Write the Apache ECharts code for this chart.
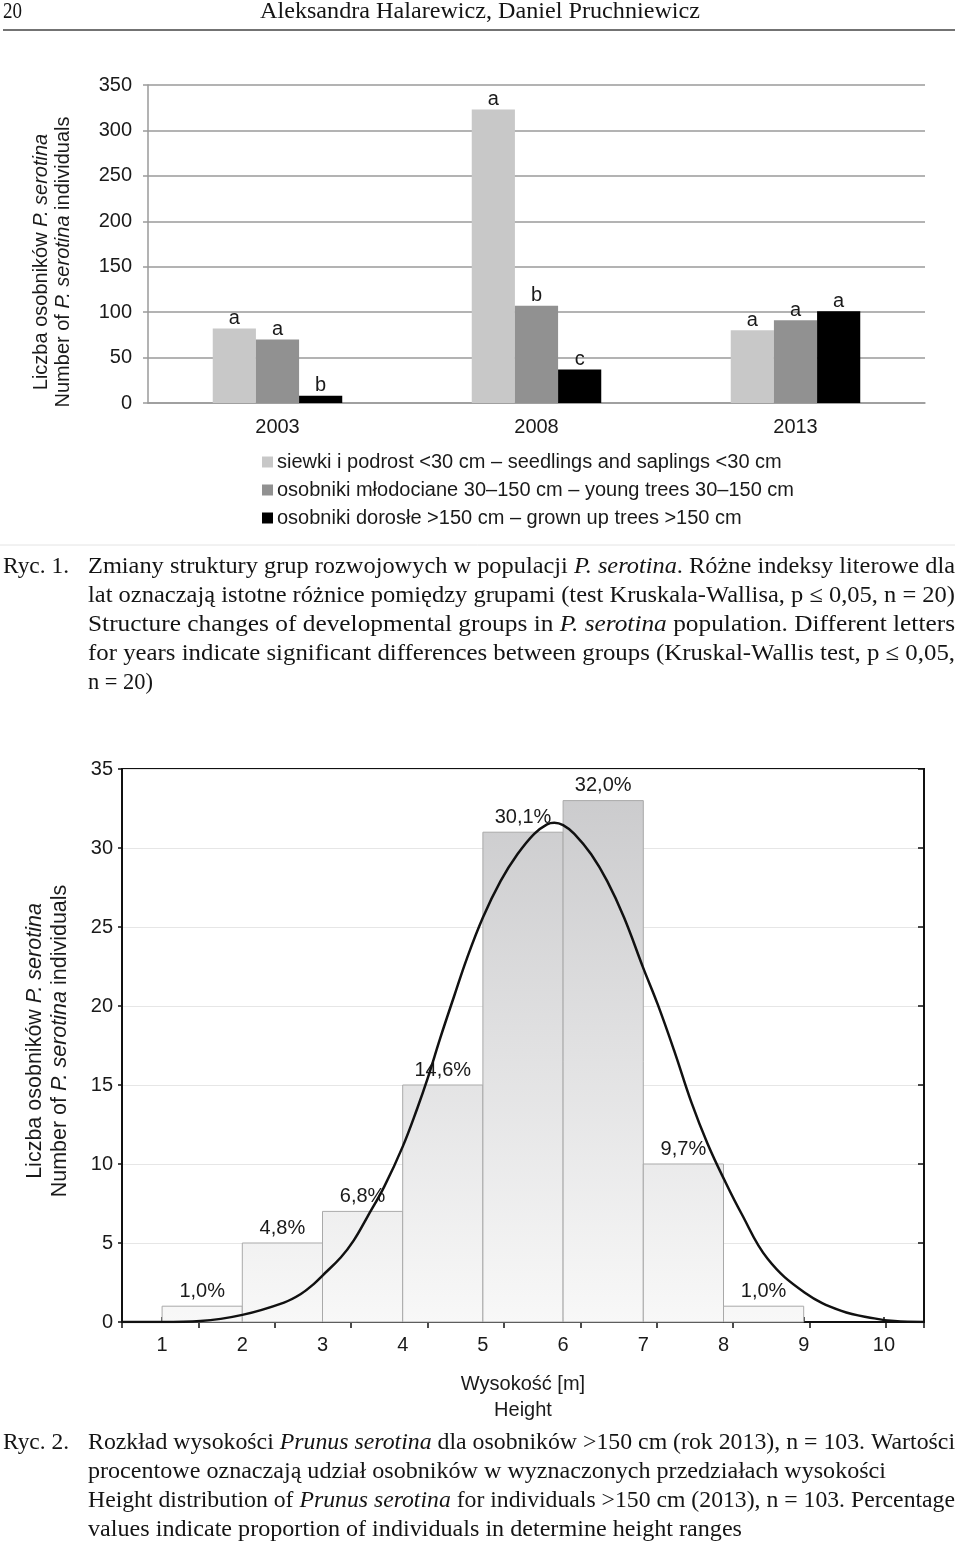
<!DOCTYPE html>
<html>
<head>
<meta charset="utf-8">
<title>Prunus serotina</title>
<script src="https://cdn.jsdelivr.net/npm/echarts@6/dist/echarts.min.js"></script>
<style>
html, body { margin: 0; padding: 0; background: #fff; }
#page { width: 960px; height: 1548px; }
</style>
</head>
<body>
<div id="page"></div>
<script>
// Ryc. 1 - grupy rozwojowe
var years = ['2003', '2008', '2013'];
var groupNames = [
    'siewki i podrost <30 cm – seedlings and saplings <30 cm',
    'osobniki młodociane 30–150 cm – young trees 30–150 cm',
    'osobniki dorosłe >150 cm – grown up trees >150 cm'
];
var seedlings = [82, 323, 80];
var youngTrees = [70, 107, 91];
var grownTrees = [8, 37, 101];
var seedlingLetters = ['a', 'a', 'a'];
var youngLetters = ['a', 'b', 'a'];
var grownLetters = ['b', 'c', 'a'];

// Ryc. 2 - rozklad wysokosci
var binStart = [1, 2, 3, 4, 5, 6, 7, 8];
var binEnd = [2, 3, 4, 5, 6, 7, 8, 9];
var binCount = [1, 5, 7, 15, 31, 33, 10, 1];
var binPercent = ['1,0%', '4,8%', '6,8%', '14,6%', '30,1%', '32,0%', '9,7%', '1,0%'];
var heightTicks = [1, 2, 3, 4, 5, 6, 7, 8, 9, 10];
// krzywa
var curveX = [0.5, 1.0, 1.48, 2.0, 2.52, 2.73, 2.89, 3.0, 3.23, 3.39, 3.56, 3.77, 4.0, 4.18, 4.31, 4.47,
    4.64, 4.8, 5.0, 5.22, 5.43, 5.64, 5.8, 5.89, 6.0, 6.14, 6.35, 6.55, 6.76, 7.0, 7.18, 7.39, 7.6,
    7.8, 8.01, 8.22, 8.55, 9.01, 9.47, 9.88, 10.13, 10.5];
var curveY = [0, 0, 0.06, 0.45, 1.23, 1.77, 2.4, 2.94, 4.1, 5.17, 6.66, 8.57, 11.1, 13.5, 15.4, 18.0,
    20.6, 23.0, 25.6, 27.9, 29.6, 30.9, 31.5, 31.6, 31.45, 30.9, 29.6, 27.9, 25.6, 22.4, 20.1, 17.1, 13.9,
    11.3, 9.0, 6.9, 4.0, 1.87, 0.7, 0.23, 0.06, 0];

// teksty strony (segment: [tekst, kursywa])
var caption1 = [
    [['Zmiany struktury grup rozwojowych w populacji ', 0], ['P. serotina', 1], ['. Różne indeksy literowe dla', 0]],
    [['lat oznaczają istotne różnice pomiędzy grupami (test Kruskala-Wallisa, p ≤ 0,05, n = 20)', 0]],
    [['Structure changes of developmental groups in ', 0], ['P. serotina', 1], [' population. Different letters', 0]],
    [['for years indicate significant differences between groups (Kruskal-Wallis test, p ≤ 0,05,', 0]],
    [['n = 20)', 0]]
];
var caption1End = [955, 955, 955, 955, 153];
var caption2 = [
    [['Rozkład wysokości ', 0], ['Prunus serotina', 1], [' dla osobników >150 cm (rok 2013), n = 103. Wartości', 0]],
    [['procentowe oznaczają udział osobników w wyznaczonych przedziałach wysokości', 0]],
    [['Height distribution of ', 0], ['Prunus serotina', 1], [' for individuals >150 cm (2013), n = 103. Percentage', 0]],
    [['values indicate proportion of individuals in determine height ranges', 0]]
];
var caption2End = [955, 886, 955, 742];

var SANS = 'Liberation Sans';
var SERIF = 'Liberation Serif';
var measureCtx = document.createElement('canvas').getContext('2d');

function measure(segs, size) {
    var w = 0;
    for (var i = 0; i < segs.length; i++) {
        measureCtx.font = (segs[i][1] ? 'italic ' : '') + size + 'px "' + SERIF + '"';
        w += measureCtx.measureText(segs[i][0]).width;
    }
    return w;
}

/**
 * linia tekstu szeryfowego sciśnięta do zadanej szerokosci
 */
function serifLine(segs, x, y, endX, size) {
    var str = '';
    for (var i = 0; i < segs.length; i++) {
        str += '{' + (segs[i][1] ? 'i' : 'n') + '|' + segs[i][0] + '}';
    }
    return {
        type: 'text',
        x: x,
        y: y,
        scaleX: (endX - x) / measure(segs, size),
        style: {
            text: str,
            fill: '#141414',
            verticalAlign: 'middle',
            rich: {
                n: { fontFamily: SERIF, fontSize: size },
                i: { fontFamily: SERIF, fontSize: size, fontStyle: 'italic' }
            }
        }
    };
}

function axisName(x, y, lines, size, lh) {
    return {
        type: 'text',
        x: x,
        y: y,
        rotation: Math.PI / 2,
        style: {
            text: lines,
            align: 'center',
            verticalAlign: 'middle',
            fill: '#1a1a1a',
            rich: {
                n: { fontFamily: SANS, fontSize: size, lineHeight: lh },
                i: { fontFamily: SANS, fontSize: size, lineHeight: lh, fontStyle: 'italic' }
            }
        }
    };
}

var graphics = [];
graphics.push(serifLine([['20', 0]], 3, 12, 22, 23));
graphics.push(serifLine([['Aleksandra Halarewicz, Daniel Pruchniewicz', 0]], 260, 12, 700, 23));
graphics.push({ type: 'line', shape: { x1: 3, y1: 30, x2: 955, y2: 30 }, style: { stroke: '#444', lineWidth: 1.5 } });
graphics.push({ type: 'line', shape: { x1: 0, y1: 545, x2: 955, y2: 545 }, style: { stroke: '#e4e4e4', lineWidth: 1 } });

graphics.push(serifLine([['Ryc. 1.', 0]], 3, 567, 69, 23));
for (var i = 0; i < caption1.length; i++) {
    graphics.push(serifLine(caption1[i], 88, 567 + i * 29, caption1End[i], 23));
}
graphics.push(serifLine([['Ryc. 2.', 0]], 3, 1443, 69, 23));
for (var j = 0; j < caption2.length; j++) {
    graphics.push(serifLine(caption2[j], 88, 1443 + j * 29, caption2End[j], 23));
}

graphics.push(axisName(52, 262,
    '{n|Liczba osobników }{i|P. serotina}\n{n|Number of }{i|P. serotina}{n| individuals}', 20, 22));
graphics.push(axisName(48, 1041,
    '{n|Liczba osobników }{i|P. serotina}\n{n|Number of }{i|P. serotina}{n| individuals}', 21.5, 25));
graphics.push({
    type: 'text', x: 523, y: 1384,
    style: { text: 'Wysokość [m]', font: '20px "' + SANS + '"', fill: '#1a1a1a', align: 'center', verticalAlign: 'middle' }
});
graphics.push({
    type: 'text', x: 523, y: 1410,
    style: { text: 'Height', font: '20px "' + SANS + '"', fill: '#1a1a1a', align: 'center', verticalAlign: 'middle' }
});

function letterLabel(letters) {
    return {
        show: true,
        position: 'top',
        distance: 0,
        fontFamily: SANS,
        fontSize: 20,
        color: '#1a1a1a',
        formatter: function (p) { return letters[p.dataIndex]; }
    };
}

var bins = [];
for (var k = 0; k < binStart.length; k++) {
    bins.push([binStart[k], binEnd[k], binCount[k], binPercent[k]]);
}
var curve = [];
for (var m = 0; m < curveX.length; m++) {
    curve.push([curveX[m], curveY[m]]);
}

var chart = echarts.init(document.getElementById('page'), null, { renderer: 'canvas' });

var option = {
    animation: false,
    backgroundColor: '#fff',
    textStyle: { fontFamily: SANS },
    graphic: graphics,
    legend: {
        orient: 'vertical',
        left: 257,
        top: 447,
        itemWidth: 11,
        itemHeight: 11,
        itemGap: 8,
        icon: 'rect',
        textStyle: { fontFamily: SANS, fontSize: 20, color: '#1a1a1a', lineHeight: 20, padding: [0, 0, 0, -1] },
        data: groupNames
    },
    grid: [
        { left: 148, top: 85, width: 777, height: 318 },
        { left: 122, top: 769, width: 802, height: 553, show: true, borderColor: '#111', borderWidth: 2, backgroundColor: 'transparent' }
    ],
    xAxis: [
        {
            type: 'category', gridIndex: 0, data: years,
            axisLine: { lineStyle: { color: '#9a9a9a', width: 1.5 } },
            axisTick: { show: false },
            axisLabel: { fontSize: 20, color: '#1a1a1a', margin: 14 }
        },
        {
            type: 'value', gridIndex: 1, position: 'bottom', min: 0.5, max: 10.5,
            splitLine: { show: false },
            axisLine: { lineStyle: { color: '#111', width: 2 } },
            axisTick: { inside: true, length: 5, customValues: heightTicks, lineStyle: { color: '#111', width: 1.5 } },
            axisLabel: { fontSize: 20, color: '#1a1a1a', margin: 13, customValues: heightTicks }
        },
        {
            type: 'value', gridIndex: 1, position: 'top', min: 0, max: 10.5, interval: 1,
            splitLine: { show: false },
            axisLine: { lineStyle: { color: '#111', width: 2 } },
            axisTick: { inside: true, length: 6, lineStyle: { color: '#111', width: 1.5 } },
            axisLabel: { show: false }
        }
    ],
    yAxis: [
        {
            type: 'value', gridIndex: 0, min: 0, max: 350, interval: 50,
            axisLine: { show: true, lineStyle: { color: '#9a9a9a', width: 1.5 } },
            axisTick: { show: true, length: 5, lineStyle: { color: '#9a9a9a', width: 1.5 } },
            splitLine: { lineStyle: { color: '#9a9a9a', width: 1.5 } },
            axisLabel: { fontSize: 20, color: '#1a1a1a', margin: 16 }
        },
        {
            type: 'value', gridIndex: 1, position: 'left', min: 0, max: 35, interval: 5,
            axisLine: { show: true, lineStyle: { color: '#111', width: 2 } },
            axisTick: { show: true, length: 4, lineStyle: { color: '#111', width: 1.5 } },
            splitLine: { lineStyle: { color: '#e6e6e6', width: 1 } },
            axisLabel: { fontSize: 20, color: '#1a1a1a', margin: 9 }
        },
        {
            type: 'value', gridIndex: 1, position: 'right', min: 0, max: 35, interval: 5,
            axisLine: { show: true, lineStyle: { color: '#111', width: 2 } },
            axisTick: { show: true, inside: true, length: 6, lineStyle: { color: '#111', width: 1.5 } },
            splitLine: { show: false },
            axisLabel: { show: false }
        }
    ],
    series: [
        {
            name: groupNames[0], type: 'bar', xAxisIndex: 0, yAxisIndex: 0,
            data: seedlings, barGap: '0%', barCategoryGap: '50%',
            itemStyle: { color: '#c8c8c8' }, label: letterLabel(seedlingLetters)
        },
        {
            name: groupNames[1], type: 'bar', xAxisIndex: 0, yAxisIndex: 0,
            data: youngTrees, barGap: '0%', barCategoryGap: '50%',
            itemStyle: { color: '#919191' }, label: letterLabel(youngLetters)
        },
        {
            name: groupNames[2], type: 'bar', xAxisIndex: 0, yAxisIndex: 0,
            data: grownTrees, barGap: '0%', barCategoryGap: '50%',
            itemStyle: { color: '#000' }, label: letterLabel(grownLetters)
        },
        {
            type: 'custom', xAxisIndex: 1, yAxisIndex: 1, data: bins, z: 2,
            renderItem: function (params, api) {
                var topLeft = api.coord([api.value(0), api.value(2)]);
                var bottomRight = api.coord([api.value(1), 0]);
                var gTop = api.coord([0.5, 35])[1];
                var gBottom = api.coord([0.5, 0])[1];
                return {
                    type: 'group',
                    children: [
                        {
                            type: 'rect',
                            shape: {
                                x: topLeft[0], y: topLeft[1],
                                width: bottomRight[0] - topLeft[0],
                                height: bottomRight[1] - topLeft[1]
                            },
                            style: {
                                fill: new echarts.graphic.LinearGradient(0, gTop, 0, gBottom, [
                                    { offset: 0, color: '#c9c9cb' },
                                    { offset: 1, color: '#f8f8f8' }
                                ], true),
                                stroke: '#a9a9a9',
                                lineWidth: 1
                            }
                        },
                        {
                            type: 'text',
                            x: (topLeft[0] + bottomRight[0]) / 2,
                            y: topLeft[1] - 5,
                            style: {
                                text: api.value(3),
                                font: '20px "' + SANS + '"',
                                fill: '#1a1a1a',
                                align: 'center',
                                verticalAlign: 'bottom'
                            }
                        }
                    ]
                };
            }
        },
        {
            type: 'line', xAxisIndex: 1, yAxisIndex: 1, data: curve, z: 5,
            smooth: 0.4, showSymbol: false, symbol: 'none',
            lineStyle: { color: '#111', width: 2.5 }
        }
    ]
};

chart.setOption(option);
</script>
</body>
</html>
